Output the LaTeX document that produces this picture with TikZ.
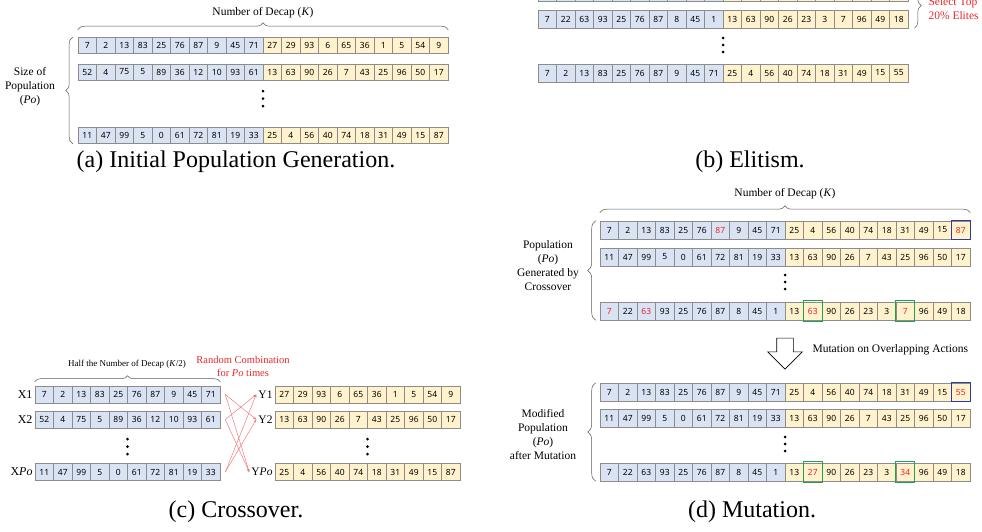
\documentclass[tikz,border=0pt]{standalone}
\usepackage{fontspec}
\setmainfont{Liberation Serif}
\newfontfamily\genefont{Noto Sans}
\usetikzlibrary{decorations.pathreplacing,shapes.arrows,arrows.meta}

\definecolor{geneX}{HTML}{DAE3F3}
\definecolor{geneY}{HTML}{FFF2CC}
\definecolor{cellline}{HTML}{8C8C8C}
\definecolor{mutred}{HTML}{E8262A}
\definecolor{boxblue}{HTML}{2E3B9E}
\definecolor{boxgreen}{HTML}{22A04B}

\tikzset{
  gene/.style={draw=cellline, line width=0.6pt, minimum width=18.5pt, minimum height=18pt,
    inner sep=0pt, font=\genefont\fontsize{8.5}{9}\selectfont},
  brc/.style={decorate, decoration={brace, amplitude=7pt}, draw=gray!70!black, line width=0.5pt},
  lbl/.style={font=\fontsize{11.5}{14}\selectfont, align=center},
  capt/.style={font=\fontsize{24}{28}\selectfont},
  mix/.style={draw=mutred!65, line width=0.45pt, -{Stealth[length=3pt,width=2.5pt]}},
  hlblue/.style={draw=boxblue, line width=1.1pt},
  hlgreen/.style={draw=boxgreen, line width=1.1pt},
}

\newcommand{\redv}[1]{\textcolor{mutred}{#1}}
\newcommand{\newv}[1]{\textcolor{mutred}{\bfseries #1}}

% one chromosome: [options] name, left edge, centre y, first yellow cell, values
\newcommand{\genes}[6][]{%
  \foreach \v [count=\i] in {#6} {%
    \ifnum\i<#5 \def\genefill{geneX}\else\def\genefill{geneY}\fi
    \node[gene, fill=\genefill, #1] (#2-\i) at ({#3+(\i-0.5)*18.5}, #4) {\v};
  }}

\begin{document}
\begin{tikzpicture}[x=1pt, y=-1pt]
    \useasboundingbox (0,0) rectangle (982,531);

    % (a) initial population
    \genes[minimum height=16pt]{a1}{78}{45.5}{11}{7,2,13,83,25,76,87,9,45,71,27,29,93,6,65,36,1,5,54,9}
    \genes[minimum height=16pt]{a2}{78}{72}{11}{52,4,75,5,89,36,12,10,93,61,13,63,90,26,7,43,25,96,50,17}
    \genes[minimum height=16pt]{a3}{78}{135.5}{11}{11,47,99,5,0,61,72,81,19,33,25,4,56,40,74,18,31,49,15,87}
    \foreach \dy in {-7.5,0,7.5} \fill (263,98.5+\dy) circle (1.5pt);

    \draw[brc] ([yshift=7.5pt]a1-1.north west) -- ([yshift=7.5pt]a1-20.north east);
    \node[lbl] (ka) at (263,13) {Number of Decap (\textit{K})};
    \draw[brc] ([xshift=-5pt]a3-1.south west) -- ([xshift=-5pt]a1-1.north west);
    \node[lbl] (sizea) at (30,87) {Size of\\Population\\(\textit{Po})};

    \node[capt] (capa) at (236,162) {(a) Initial Population Generation.};

    % (b) elitism
    \foreach \i in {1,...,20} {
      \ifnum\i<11 \def\genefill{geneX}\else\def\genefill{geneY}\fi
      \node[gene, fill=\genefill] (b0-\i) at ({538+(\i-0.5)*18.5}, -8) {};
    }
    \genes{b1}{538}{19}{11}{7,22,63,93,25,76,87,8,45,1,13,63,90,26,23,3,7,96,49,18}
    \genes{b2}{538}{73}{11}{7,2,13,83,25,76,87,9,45,71,25,4,56,40,74,18,31,49,15,55}
    \foreach \dy in {-7,0,7} \fill (723,45+\dy) circle (1.5pt);

    \draw[brc] ([xshift=6pt]b0-20.north east) -- ([xshift=6pt]b1-20.south east);
    \node[lbl, text=mutred, align=left, anchor=west] (elite) at (925,9) {Select Top\\20\% Elites};

    \node[capt] (capb) at (750,162) {(b) Elitism.};

    % (c) crossover
    \genes[minimum height=17pt]{x1}{35}{394.5}{11}{7,2,13,83,25,76,87,9,45,71}
    \genes[minimum height=17pt]{x2}{35}{419.5}{11}{52,4,75,5,89,36,12,10,93,61}
    \genes[minimum height=17pt]{xp}{35}{472}{11}{11,47,99,5,0,61,72,81,19,33}
    \genes[minimum height=17pt]{y1}{275}{394.5}{1}{27,29,93,6,65,36,1,5,54,9}
    \genes[minimum height=17pt]{y2}{275}{419.5}{1}{13,63,90,26,7,43,25,96,50,17}
    \genes[minimum height=17pt]{yp}{275}{472}{1}{25,4,56,40,74,18,31,49,15,87}
    \foreach \dy in {-7.5,0,7.5} {
      \fill (127.5,446.5+\dy) circle (1.5pt);
      \fill (367.5,446.5+\dy) circle (1.5pt);
    }

    \node[anchor=east, inner sep=2pt, font=\fontsize{12}{14}\selectfont] (lx1) at (x1-1.west) {X1};
    \node[anchor=east, inner sep=2pt, font=\fontsize{12}{14}\selectfont] (lx2) at (x2-1.west) {X2};
    \node[anchor=east, inner sep=2pt, font=\fontsize{12}{14}\selectfont] (lxp) at (xp-1.west) {X\textit{Po}};
    \node[anchor=east, inner sep=2pt, font=\fontsize{11.5}{14}\selectfont] (ly1) at (y1-1.west) {Y1};
    \node[anchor=east, inner sep=2pt, font=\fontsize{11.5}{14}\selectfont] (ly2) at (y2-1.west) {Y2};
    \node[anchor=east, inner sep=2pt, font=\fontsize{11.5}{14}\selectfont] (lyp) at (yp-1.west) {Y\textit{Po}};

    \draw[brc, decoration={amplitude=6pt}] ([yshift=4pt]x1-1.north west) -- ([yshift=4pt]x1-10.north east);
    \node[font=\fontsize{9}{11}\selectfont] (halfk) at (127,364) {Half the Number of Decap (\textit{K}/2)};
    \node[font=\fontsize{10.5}{13}\selectfont, align=center, text=mutred] (combi) at (243,366) {Random Combination\\for \textit{Po} times};

    \coordinate (x1o) at ([xshift=5pt]x1-10.east);
    \coordinate (x2o) at ([xshift=5pt]x2-10.east);
    \coordinate (xpo) at ([xshift=5pt]xp-10.east);
    \draw[mix] (x1o) -- (ly2.west);
    \draw[mix] (x1o) -- (lyp.west);
    \draw[mix] (x2o) -- (ly1.west);
    \draw[mix] (x2o) -- (lyp.west);
    \draw[mix] (xpo) -- (ly1.west);
    \draw[mix] (xpo) -- (ly2.west);

    \node[capt] (capc) at (236,512) {(c) Crossover.};

    % (d) mutation
    \genes{d1}{600}{230}{11}{7,2,13,83,25,76,\redv{87},9,45,71,25,4,56,40,74,18,31,49,15,\redv{87}}
    \genes{d2}{600}{257}{11}{11,47,99,5,0,61,72,81,19,33,13,63,90,26,7,43,25,96,50,17}
    \genes{d3}{600}{311}{11}{\redv{7},22,\redv{63},93,25,76,87,8,45,1,13,\redv{63},90,26,23,3,\redv{7},96,49,18}
    \foreach \dy in {-7,0,7} \fill (785,282+\dy) circle (1.5pt);
    \draw[hlblue] (d1-20.south west) rectangle (d1-20.north east);
    \draw[hlgreen] ([yshift=-1pt]d3-12.south west) rectangle ([yshift=1pt]d3-12.north east);
    \draw[hlgreen] ([yshift=-1pt]d3-17.south west) rectangle ([yshift=1pt]d3-17.north east);

    \draw[brc] ([yshift=8pt]d1-1.north west) -- ([yshift=8pt]d1-20.north east);
    \node[lbl] (kd) at (785,194) {Number of Decap (\textit{K})};
    \draw[brc, decoration={amplitude=8pt}] ([xshift=-4pt]d3-1.south west) -- ([xshift=-4pt]d1-1.north west);
    \node[lbl] (dpop) at (548,266) {Population\\(\textit{Po})\\Generated by\\Crossover};

    \node[single arrow, draw=black, fill=white, line width=0.6pt, rotate=-90,
      minimum height=31pt, minimum width=34pt, single arrow head extend=9pt, inner sep=8pt] (mutarrow) at (785,349.5) {};
    \node[lbl, anchor=west] (mutlbl) at (809,350) {Mutation on Overlapping Actions};

    \genes{m1}{600}{392}{11}{7,2,13,83,25,76,87,9,45,71,25,4,56,40,74,18,31,49,15,\newv{55}}
    \genes{m2}{600}{418}{11}{11,47,99,5,0,61,72,81,19,33,13,63,90,26,7,43,25,96,50,17}
    \genes{m3}{600}{472}{11}{7,22,63,93,25,76,87,8,45,1,13,\newv{27},90,26,23,3,\newv{34},96,49,18}
    \foreach \dy in {-7,0,7} \fill (785,444+\dy) circle (1.5pt);
    \draw[hlblue] (m1-20.south west) rectangle (m1-20.north east);
    \draw[hlgreen] ([yshift=-1pt]m3-12.south west) rectangle ([yshift=1pt]m3-12.north east);
    \draw[hlgreen] ([yshift=-1pt]m3-17.south west) rectangle ([yshift=1pt]m3-17.north east);

    \draw[brc, decoration={amplitude=8pt}] ([xshift=-4pt]m3-1.south west) -- ([xshift=-4pt]m1-1.north west);
    \node[lbl] (mpop) at (543,434) {Modified\\Population\\(\textit{Po})\\after Mutation};

    \node[capt] (capd) at (752,512) {(d) Mutation.};

\end{tikzpicture}
\end{document}
